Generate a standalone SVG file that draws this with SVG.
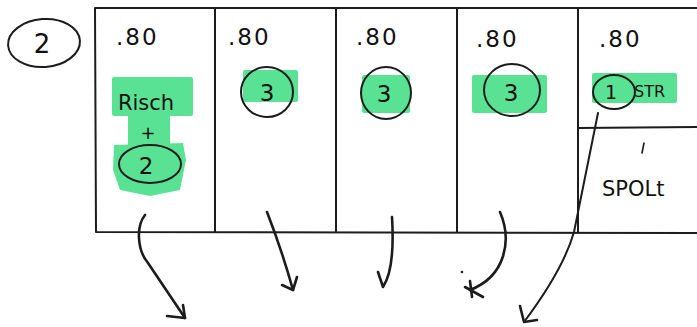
<svg xmlns="http://www.w3.org/2000/svg" width="697" height="327" viewBox="0 0 697 327">
<style>
.ln{stroke:#1c1c1c;stroke-width:2;fill:none;stroke-linecap:round;stroke-linejoin:round}
.ar{stroke:#1c1c1c;stroke-width:2.6;fill:none;stroke-linecap:round;stroke-linejoin:round}
.thin{stroke:#1c1c1c;stroke-width:1.6;fill:none;stroke-linecap:round}
.hl{fill:#5ae294}
.t{font-family:"DejaVu Sans","Liberation Sans",sans-serif;fill:#111}
.num{font-size:23px;letter-spacing:2px}
.big{font-size:23px}
</style>
<rect width="697" height="327" fill="#fff"/>
<g id="label-2">
<ellipse class="ln" cx="44" cy="43" rx="36" ry="24" transform="rotate(-4 44 43)"/>
<text class="t" x="42" y="53" font-size="26" text-anchor="middle">2</text>
</g>
<g id="frame">
<path class="ln" d="M95,8 L697,8 M95,8 L96,232 M96,232 L697,233 M215,8 L215,232 M336,8 L336,232 M457,8 L457,232 M578,8 L578,232 M578,128 L697,127"/>
</g>
<g id="col1">
<text class="t num" x="116" y="45">.80</text>
<rect class="hl" x="112" y="77" width="81" height="39" rx="2"/>
<rect class="hl" x="128" y="113" width="42" height="32"/>
<path class="hl" d="M114,145 L183,143 L186,160 L180,190 L150,196 L120,190 L113,170 Z"/>
<text class="t" x="146" y="110" font-size="21" text-anchor="middle">Risch</text>
<text class="t" x="148" y="139" font-size="18" text-anchor="middle">+</text>
<ellipse class="ln" cx="150" cy="164" rx="31" ry="19"/>
<text class="t big" x="146" y="174" text-anchor="middle">2</text>
</g>
<g id="col2">
<text class="t num" x="228" y="45">.80</text>
<rect class="hl" x="243" y="70" width="55" height="32" rx="2"/>
<ellipse class="ln" cx="267" cy="92" rx="26" ry="25"/>
<text class="t big" x="267" y="101" text-anchor="middle">3</text>
</g>
<g id="col3">
<text class="t num" x="356" y="45">.80</text>
<rect class="hl" x="362" y="75" width="48" height="38" rx="2"/>
<ellipse class="ln" cx="386" cy="93" rx="25" ry="26"/>
<text class="t big" x="384" y="102" text-anchor="middle">3</text>
</g>
<g id="col4">
<text class="t num" x="476" y="47">.80</text>
<rect class="hl" x="472" y="75" width="75" height="38" rx="2"/>
<ellipse class="ln" cx="512" cy="90" rx="28" ry="26"/>
<text class="t big" x="511" y="101" text-anchor="middle">3</text>
</g>
<g id="col5">
<text class="t num" x="599" y="47">.80</text>
<rect class="hl" x="592" y="73" width="85" height="30" rx="2"/>
<ellipse class="ln" cx="614" cy="92" rx="21" ry="17"/>
<text class="t" x="611" y="99" font-size="19" text-anchor="middle">1</text>
<text class="t" x="634" y="97" font-size="16">STR</text>
<path class="thin" d="M644,143 L642,153"/>
<text class="t" x="602" y="196" font-size="21">SPOLt</text>
</g>
<g id="connectors">
<path class="ar" d="M145,215 C136,226 137,250 148,263 L185,318"/>
<path class="ar" d="M167,316 L185,318 L183,305"/>
<path class="ar" d="M267,212 C276,235 286,265 293,290"/>
<path class="ar" d="M282,285 L293,290 L297,277"/>
<path class="ar" d="M392,217 C394,250 391,275 383,287 L378,272"/>
<path class="ar" d="M500,212 C512,240 506,276 470,290"/>
<path class="ar" d="M470,281 L472,297 M465,287 L483,297"/>
<circle cx="462" cy="272" r="1.3" fill="#1c1c1c"/>
<path class="ln" d="M598,113 L574,232 C566,260 548,290 524,322"/>
<path class="ar" d="M520,306 L524,322 L537,320"/>
</g>
</svg>
